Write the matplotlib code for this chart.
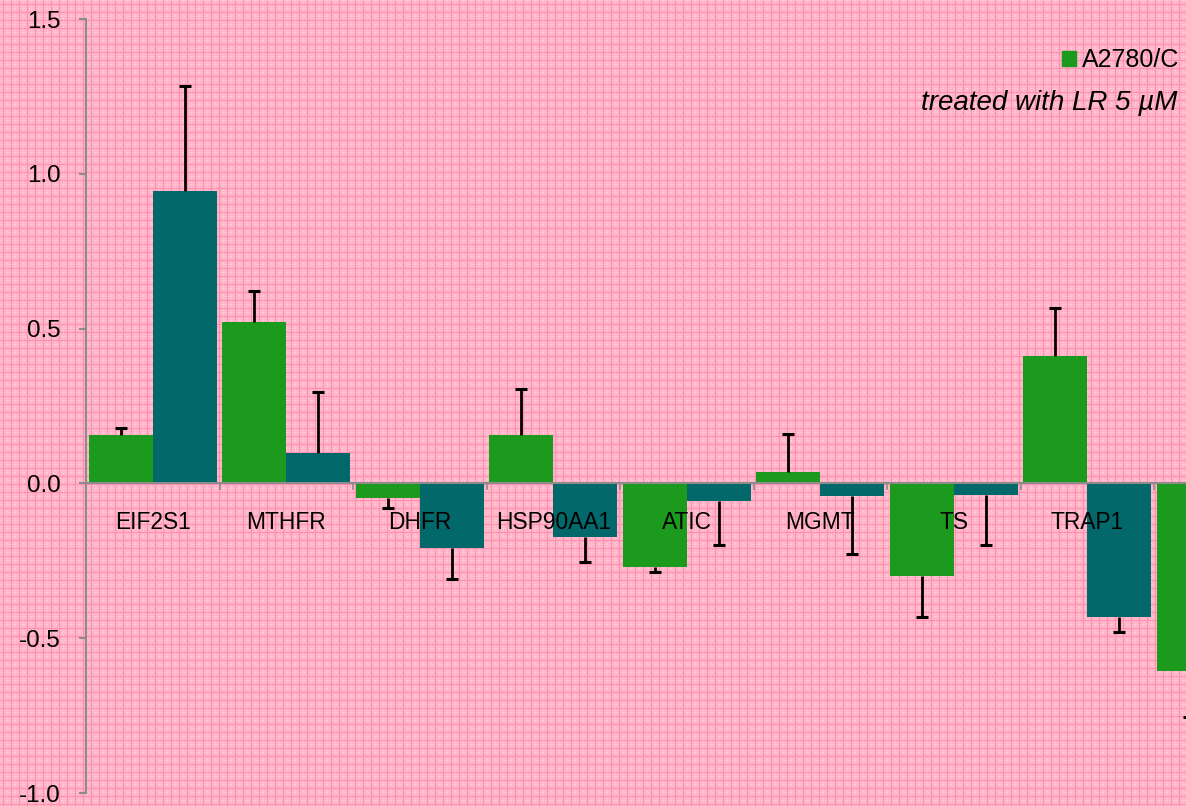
import numpy as np
import matplotlib
matplotlib.use("Agg")
import matplotlib.pyplot as plt
from matplotlib.patches import Patch

plt.rcParams['font.family'] = ['Liberation Sans', 'DejaVu Sans']

# Gene categories (the last group runs past the right edge of the canvas)
genes = ["EIF2S1", "MTHFR", "DHFR", "HSP90AA1", "ATIC", "MGMT", "TS", "TRAP1", ""]

# Series 1 (green): log-fold change and error
green_vals = [0.155, 0.520, -0.048, 0.155, -0.271, 0.036, -0.300, 0.413, -0.607]
green_err = [0.025, 0.103, 0.030, 0.149, 0.016, 0.125, 0.133, 0.155, 0.149]

# Series 2 (teal): log-fold change and error
teal_vals = [0.943, 0.097, -0.210, -0.174, -0.058, -0.042, -0.039, -0.430, np.nan]
teal_err = [0.342, 0.197, 0.100, 0.081, 0.142, 0.187, 0.161, 0.051, np.nan]

series_label = "A2780/C"
note = "treated with LR 5 \u00b5M"
y_ticks = [-1.0, -0.5, 0.0, 0.5, 1.0, 1.5]

GREEN = "#1C9A1E"
TEAL = "#02686A"
AXIS_GRAY = "#8C8C8C"

W, H = 1186, 806
fig = plt.figure(figsize=(W / 100, H / 100), dpi=100)
fig.patch.set_facecolor("#FFB6C9")

# Checked paper texture behind the plot
bg = fig.add_axes([0, 0, 1, 1], zorder=-10)
bg.set_xlim(0, W)
bg.set_ylim(0, H)
bg.axis("off")
xs = np.arange(2.5, W, 8)
ys = np.arange(2.5, H, 8)
bg.vlines(xs + 4, 0, H, color="#FFD3DE", lw=0.7, linestyles=(0, (1, 2)))
bg.hlines(ys + 4, 0, W, color="#FFD3DE", lw=0.7, linestyles=(0, (1, 2)))
bg.vlines(xs, 0, H, color="#FF8FB1", lw=0.8)
bg.hlines(ys, 0, W, color="#FF8FB1", lw=0.8)

n = len(genes)
cat_px = 133.5
left_px, bottom_px, top_px = 86, 793, 19
ax = fig.add_axes([left_px / W, (H - bottom_px) / H,
                   n * cat_px / W, (bottom_px - top_px) / H])
ax.set_facecolor("none")
ax.set_xlim(0, n)
ax.set_ylim(-1.0, 1.5)

idx = np.arange(n)
bw = 0.478
xg = idx + 0.5 - bw / 2
xt = idx + 0.5 + bw / 2
gv = np.array(green_vals)
tv = np.array(teal_vals)
ax.bar(xg, gv, width=bw, color=GREEN, zorder=1, label=series_label)
ax.bar(xt, tv, width=bw, color=TEAL, zorder=1)

# One-sided error bars pointing away from zero
for x, v, e in [(xg, gv, np.array(green_err)), (xt, tv, np.array(teal_err))]:
    ends = v + np.sign(v) * e
    ax.vlines(x, v, ends, color="black", lw=2.0, zorder=3)
    ax.plot(x, ends, ls="none", marker="_", ms=8.5, mew=2.2,
            color="black", zorder=3)

ax.spines["top"].set_visible(False)
ax.spines["right"].set_visible(False)
ax.spines["left"].set_color(AXIS_GRAY)
ax.spines["left"].set_linewidth(1.5)
ax.spines["bottom"].set_position(("data", 0))
ax.spines["bottom"].set_color(AXIS_GRAY)
ax.spines["bottom"].set_linewidth(1.5)
ax.spines["bottom"].set_zorder(2)

ax.set_yticks(y_ticks)
ax.set_yticklabels([f"{t:.1f}" for t in y_ticks])
ax.tick_params(axis="y", direction="out", length=5, width=1.5,
               color=AXIS_GRAY, labelsize=17.4, pad=13)

ax.set_xticks(np.arange(n + 1))
ax.set_xticklabels([""] * (n + 1))
ax.tick_params(axis="x", which="major", direction="out", length=5,
               width=1.2, color=AXIS_GRAY)
ax.set_xticks(idx + 0.5, minor=True)
ax.set_xticklabels(genes, minor=True)
ax.tick_params(axis="x", which="minor", length=0, labelsize=16.4, pad=20)

leg = fig.legend(handles=[Patch(color=GREEN, label=series_label)],
                 loc="upper left", bbox_to_anchor=(1062 / W, 1 - 48 / H),
                 frameon=False, fontsize=18, handlelength=0.56,
                 handleheight=0.56, handletextpad=0.24, borderpad=0,
                 borderaxespad=0)

fig.text(1177 / W, 1 - 110 / H, note, ha="right", va="baseline",
         style="italic", fontsize=20)

fig.savefig("out.png", dpi=100, facecolor=fig.get_facecolor())
